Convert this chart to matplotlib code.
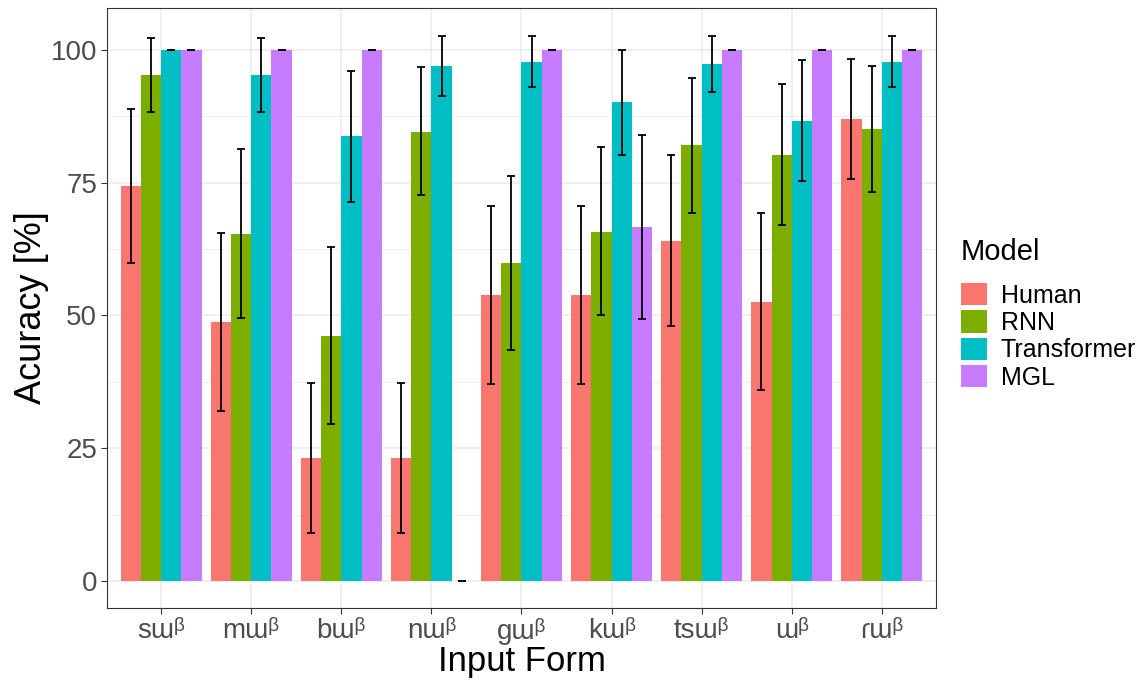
import numpy as np
import matplotlib.pyplot as plt

forms = ['sɯᵝ', 'mɯᵝ', 'bɯᵝ', 'nɯᵝ', 'gɯᵝ', 'kɯᵝ', 'tsɯᵝ', 'ɯᵝ', 'ɾɯᵝ']
models = ['Human', 'RNN', 'Transformer', 'MGL']
colors = ['#F8766D', '#7CAE00', '#00BFC4', '#C77CFF']

# mean accuracy per model
human = [74.4, 48.7, 23.1, 23.1, 53.8, 53.8, 64.0, 52.5, 86.9]
rnn = [95.3, 65.3, 46.1, 84.6, 59.8, 65.8, 82.0, 80.3, 85.1]
transformer = [100.0, 95.3, 83.8, 97.0, 97.8, 90.1, 97.4, 86.7, 97.8]
mgl = [100.0, 100.0, 100.0, 0.0, 100.0, 66.7, 100.0, 100.0, 100.0]

# error bar limits (low, high)
human_lo = [59.8, 32.0, 9.0, 9.0, 37.0, 37.0, 48.0, 35.9, 75.6]
human_hi = [88.9, 65.5, 37.2, 37.2, 70.6, 70.6, 80.2, 69.3, 98.2]
rnn_lo = [88.3, 49.5, 29.5, 72.6, 43.4, 50.0, 69.2, 67.1, 73.2]
rnn_hi = [102.3, 81.3, 62.8, 96.7, 76.3, 81.7, 94.8, 93.6, 97.0]
tr_lo = [100.0, 88.3, 71.4, 91.3, 93.0, 80.2, 92.0, 75.4, 93.0]
tr_hi = [100.0, 102.3, 96.1, 102.7, 102.7, 100.0, 102.7, 98.1, 102.7]
mgl_lo = [100.0, 100.0, 100.0, 0.0, 100.0, 49.4, 100.0, 100.0, 100.0]
mgl_hi = [100.0, 100.0, 100.0, 0.0, 100.0, 83.9, 100.0, 100.0, 100.0]

vals = [human, rnn, transformer, mgl]
los = [human_lo, rnn_lo, tr_lo, mgl_lo]
his = [human_hi, rnn_hi, tr_hi, mgl_hi]

plt.rcParams['font.family'] = ['Liberation Sans', 'DejaVu Sans']

fig = plt.figure(figsize=(11.48, 6.81), dpi=100)
ax = fig.add_axes([0.0932, 0.1072, 0.7221, 0.8811])

x = np.arange(1, len(forms) + 1)
w = 0.225
for i, m in enumerate(models):
    pos = x + (i - 1.5) * w
    v = np.array(vals[i])
    ax.bar(pos, v, width=w, color=colors[i], label=m, zorder=2)
    err = [v - np.array(los[i]), np.array(his[i]) - v]
    ax.errorbar(pos, v, yerr=err, fmt='none', ecolor='black', elinewidth=1.3,
                capsize=2.8, capthick=1.3, zorder=3)

ax.set_xlim(0.4, 9.6)
ax.set_ylim(-5.1, 107.9)
ax.set_yticks([0, 25, 50, 75, 100])
ax.set_yticks([12.5, 37.5, 62.5, 87.5], minor=True)
ax.set_xticks(x)
ax.set_xticklabels(forms)
ax.grid(which='major', color='#EBEBEB', linewidth=1.1, zorder=0)
ax.grid(which='minor', axis='y', color='#EBEBEB', linewidth=0.6, zorder=0)
ax.set_axisbelow(True)
for s in ax.spines.values():
    s.set_color('#333333')
    s.set_linewidth(0.8)
ax.tick_params(axis='both', which='major', length=4, color='#333333',
               labelsize=20, labelcolor='#4D4D4D', pad=3)
ax.tick_params(axis='y', which='minor', length=0)
ax.set_xlabel('Input Form', fontsize=25, labelpad=0)
ax.set_ylabel('Acuracy [%]', fontsize=26, labelpad=1)

leg = ax.legend(title='Model', loc='center left', bbox_to_anchor=(1.018, 0.49),
                frameon=False, fontsize=18, title_fontsize=21,
                handlelength=1.05, handleheight=1.0, labelspacing=0.1,
                handletextpad=0.55, borderaxespad=0)
leg._legend_box.align = 'left'
leg._legend_box.sep = 12

fig.savefig('out.png', dpi=100)
